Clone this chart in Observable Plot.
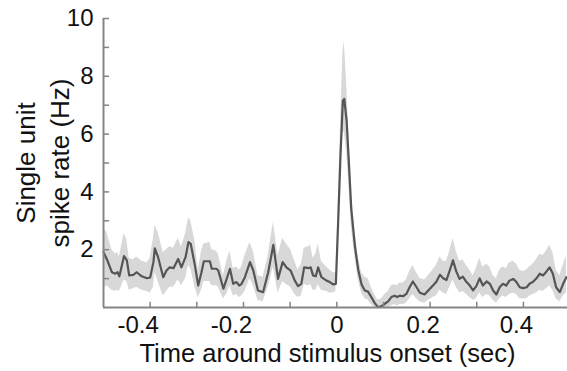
<!DOCTYPE html>
<html><head><meta charset="utf-8">
<script src="https://cdn.jsdelivr.net/npm/d3@7"></script>
<script src="https://cdn.jsdelivr.net/npm/@observablehq/plot@0.6"></script>
<style>body{margin:0;background:#fff}</style>
</head><body><div id="chart"></div>
<script>
const time = [-0.500,-0.493,-0.482,-0.475,-0.470,-0.466,-0.456,-0.450,-0.445,-0.436,-0.429,-0.418,-0.407,-0.400,-0.393,-0.390,-0.383,-0.372,-0.365,-0.358,-0.350,-0.340,-0.333,-0.324,-0.318,-0.313,-0.304,-0.297,-0.290,-0.285,-0.272,-0.268,-0.258,-0.254,-0.243,-0.236,-0.229,-0.222,-0.215,-0.209,-0.204,-0.197,-0.186,-0.179,-0.169,-0.158,-0.147,-0.136,-0.126,-0.116,-0.108,-0.099,-0.090,-0.083,-0.076,-0.070,-0.061,-0.056,-0.051,-0.045,-0.040,-0.033,-0.022,-0.015,-0.008,-0.002,0.003,0.008,0.013,0.016,0.021,0.026,0.031,0.039,0.046,0.053,0.060,0.067,0.074,0.081,0.088,0.096,0.103,0.110,0.117,0.124,0.129,0.135,0.142,0.149,0.156,0.163,0.171,0.178,0.188,0.196,0.206,0.213,0.221,0.228,0.235,0.242,0.249,0.256,0.263,0.270,0.278,0.285,0.292,0.299,0.306,0.313,0.321,0.328,0.335,0.342,0.349,0.356,0.363,0.370,0.378,0.385,0.392,0.399,0.407,0.413,0.420,0.428,0.435,0.442,0.449,0.456,0.463,0.470,0.478,0.485,0.492];
const rate = [1.91,1.68,1.22,1.17,1.22,1.08,1.78,1.63,1.11,1.13,1.22,1.08,1.01,1.04,1.57,2.05,1.74,1.05,1.28,1.39,1.36,1.68,1.39,1.75,2.26,2.2,1.45,0.76,1.22,1.6,1.6,1.34,1.34,1.28,0.65,0.99,1.34,0.82,0.88,0.76,0.82,1.05,1.57,1.28,0.59,0.53,1.22,2.17,0.99,1.57,1.39,1.28,0.93,0.74,0.82,1.39,1.36,1.39,1.11,1.08,1.39,1.05,0.93,0.88,0.80,0.82,3.0,5.3,7.16,7.22,6.47,4.98,3.4,2.1,1.3,0.8,0.59,0.55,0.36,0.16,0.01,0.05,0.13,0.21,0.36,0.41,0.36,0.41,0.39,0.47,0.70,0.90,0.70,0.51,0.45,0.59,0.76,0.88,1.13,1.01,0.95,1.28,1.63,1.25,0.99,1.07,0.88,0.76,0.59,0.74,1.01,0.76,0.9,0.82,0.59,0.45,0.70,0.82,0.76,0.93,0.99,0.88,0.70,0.67,0.70,0.82,0.88,1.01,1.17,1.11,1.24,1.39,1.17,0.70,0.53,0.82,1.05];
const lower = [0.65,0.75,0.6,0.55,0.6,0.55,0.95,0.9,0.6,0.65,0.7,0.6,0.55,0.5,0.7,1.2,0.9,0.4,0.55,0.7,0.7,0.95,0.75,1.0,1.45,1.35,0.7,0.35,0.6,0.9,0.9,0.75,0.75,0.7,0.3,0.45,0.75,0.4,0.45,0.35,0.4,0.55,1.0,0.75,0.25,0.2,0.7,1.4,0.5,0.9,0.8,0.7,0.45,0.35,0.4,0.8,0.75,0.8,0.6,0.6,0.8,0.6,0.55,0.5,0.5,0.55,2.5,4.5,6.0,6.1,5.4,4.2,2.8,1.7,0.95,0.5,0.3,0.25,0.1,0.0,0.0,0.0,0.0,0.0,0.05,0.1,0.05,0.1,0.1,0.15,0.3,0.45,0.3,0.2,0.15,0.25,0.35,0.4,0.6,0.5,0.45,0.7,0.95,0.7,0.5,0.55,0.45,0.35,0.25,0.3,0.5,0.35,0.45,0.4,0.25,0.15,0.3,0.4,0.35,0.45,0.5,0.45,0.3,0.3,0.3,0.4,0.45,0.5,0.6,0.55,0.65,0.75,0.6,0.3,0.2,0.4,0.5];
const upper = [2.75,2.6,2.0,1.85,1.9,1.75,2.55,2.35,1.7,1.65,1.75,1.6,1.55,1.7,2.4,2.85,2.6,1.9,2.0,2.1,2.05,2.4,2.1,2.55,3.1,3.0,2.3,1.3,1.95,2.2,2.25,2.0,1.95,1.85,1.1,1.6,1.95,1.35,1.4,1.3,1.4,1.8,2.25,1.95,1.1,1.05,1.8,2.95,1.8,2.4,2.2,2.0,1.6,1.3,1.5,2.05,2.1,2.15,1.7,1.85,2.2,1.6,1.4,1.3,1.2,1.2,3.6,6.3,8.8,9.2,7.8,5.9,4.1,2.6,1.75,1.2,1.05,1.0,0.7,0.45,0.25,0.3,0.45,0.55,0.75,0.8,0.75,0.85,0.85,0.95,1.25,1.45,1.2,1.0,0.95,1.1,1.3,1.45,1.75,1.6,1.6,1.95,2.4,1.95,1.6,1.65,1.45,1.3,1.1,1.35,1.7,1.4,1.5,1.4,1.1,1.0,1.3,1.4,1.35,1.55,1.6,1.5,1.3,1.25,1.3,1.4,1.5,1.65,1.85,1.8,1.95,2.15,1.9,1.3,1.1,1.45,1.8];
const xTickValues = [-0.4, -0.2, 0, 0.2, 0.4];
const xMinorTicks = [-0.4, -0.3, -0.2, -0.1, 0, 0.1, 0.2, 0.3, 0.4];
const yTickValues = [2, 4, 6, 8, 10];
const yMinorTicks = [1, 2, 3, 4, 5, 6, 7, 8, 9, 10];
const xLabel = "Time around stimulus onset (sec)";
const yLabel = "Single unit\nspike rate (Hz)";

const data = time.map((t, i) => ({t, rate: rate[i], lo: lower[i], hi: upper[i]}));
const axisColor = "#858585";
const fmtX = d => d === 0 ? "0" : d.toFixed(1);
const xTickText = (subset, dx) => Plot.text(subset, {
  x: d => d, text: fmtX, frameAnchor: "bottom", lineAnchor: "top", textAnchor: "middle",
  dy: 8, dx, fontSize: 24, fill: "#111"
});
const chart = Plot.plot({
  width: 567, height: 371,
  marginLeft: 103, marginRight: 0, marginTop: 18, marginBottom: 64,
  style: {fontFamily: "'Liberation Sans', Arial, sans-serif", background: "white", color: "#111"},
  x: {domain: [-0.5, 0.4944], axis: null},
  y: {domain: [0, 10]},
  marks: [
    Plot.areaY(data, {x: "t", y1: "lo", y2: "hi", fill: "#d8d8d8"}),
    Plot.lineY(data, {x: "t", y: "rate", stroke: "#555", strokeWidth: 2.2, strokeLinejoin: "round"}),
    Plot.ruleX(xMinorTicks, {x: d => d, y1: 0, y2: 0.18, stroke: axisColor, strokeWidth: 1.5}),
    Plot.ruleY(yMinorTicks, {y: d => d, x1: -0.5, x2: -0.487, stroke: axisColor, strokeWidth: 1.5}),
    Plot.ruleY([0], {stroke: axisColor, strokeWidth: 2}),
    Plot.ruleX([-0.5], {stroke: axisColor, strokeWidth: 2}),
    xTickText(xTickValues.filter(d => d < 0), -12),
    xTickText(xTickValues.filter(d => d === 0), 0),
    xTickText(xTickValues.filter(d => d > 0), -7),
    Plot.axisY({ticks: yTickValues, tickSize: 0, tickPadding: 10, fontSize: 24, label: null,
      tickFormat: d => String(d)}),
    Plot.text([xLabel], {text: d => d, frameAnchor: "bottom", lineAnchor: "middle", textAnchor: "middle",
      dy: 46, dx: -8, fontSize: 25.5, fill: "#111"}),
    Plot.text([yLabel], {text: d => d, frameAnchor: "left", lineAnchor: "middle", textAnchor: "middle",
      dx: -62, rotate: -90, fontSize: 26, lineHeight: 1.3, fill: "#111"})
  ]
});
document.getElementById("chart").appendChild(chart);
</script>
</body></html>
